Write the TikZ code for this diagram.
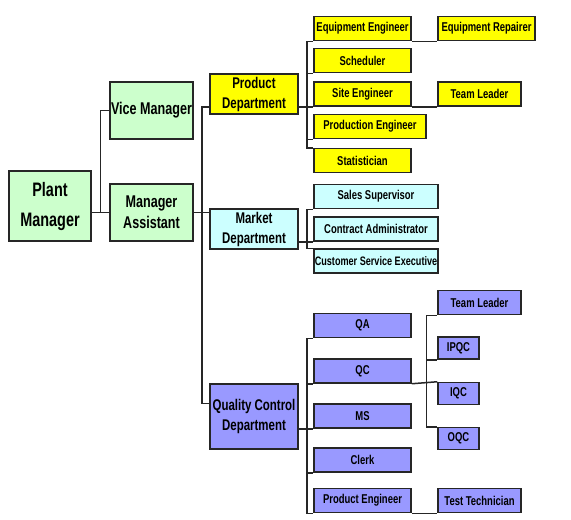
\documentclass[tikz,border=0pt]{standalone}
\usepackage{fontspec}
\setmainfont{Liberation Sans}[FakeStretch=0.74]
\usepackage{tikz}
\definecolor{mgrgreen}{RGB}{204,255,204}
\definecolor{prodyellow}{RGB}{255,255,0}
\definecolor{mktcyan}{RGB}{204,255,255}
\definecolor{qcpurple}{RGB}{153,153,255}
\tikzstyle{box} = [rectangle, draw=black!85, line width=1.5pt, align=center, inner sep=0pt, text=black]
\tikzstyle{topbox} = [box, fill=mgrgreen, minimum width=83pt, minimum height=57pt, font=\fontsize{17}{21}\selectfont\bfseries]
\tikzstyle{deptbox} = [box, minimum width=88pt, minimum height=40pt, font=\fontsize{15.5}{20}\selectfont\bfseries]
\tikzstyle{jobbox} = [box, minimum width=97pt, minimum height=24pt, font=\fontsize{12.8}{14}\selectfont\bfseries]
\tikzstyle{line} = [draw=black!85, line width=1.5pt]

\begin{document}
\begin{tikzpicture}[x=1pt, y=-1pt]
		\fill[white] (0,0) rectangle (571,520);
		\useasboundingbox (0,0) rectangle (571,520);

		% managers
		\node (pm) [topbox, minimum width=82pt, minimum height=70pt, font=\fontsize{19.5}{30}\selectfont\bfseries] at (50,206) {Plant\\Manager};
		\node (vm) [topbox] at (151.5,110.5) {Vice Manager};
		\node (ma) [topbox] at (151.5,212.5) {Manager\\Assistant};

		% departments
		\node (pd) [deptbox, fill=prodyellow] at (254,94) {Product\\Department};
		\node (md) [deptbox, fill=mktcyan] at (254,229) {Market\\Department};
		\node (qd) [deptbox, fill=qcpurple, minimum height=65pt] at (254,416.5) {Quality Control\\Department};

		% product department
		\node (ee) [jobbox, fill=prodyellow] at (362.5,28.5) {Equipment Engineer};
		\node (er) [jobbox, fill=prodyellow] at (486.5,28.5) {Equipment Repairer};
		\node (sch) [jobbox, fill=prodyellow] at (362.5,60.5) {Scheduler};
		\node (se) [jobbox, fill=prodyellow] at (362.5,94) {Site Engineer};
		\node (tl1) [jobbox, fill=prodyellow, minimum width=83pt] at (479.5,94) {Team Leader};
		\node (pe) [jobbox, fill=prodyellow, minimum width=112pt] at (370,126.5) {Production Engineer};
		\node (st) [jobbox, fill=prodyellow] at (362.5,160.5) {Statistician};

		% market department
		\node (ss) [jobbox, fill=mktcyan, minimum width=124pt] at (376,196.5) {Sales Supervisor};
		\node (ca) [jobbox, fill=mktcyan, minimum width=124pt] at (376,229) {Contract Administrator};
		\node (cse) [jobbox, fill=mktcyan, minimum width=124pt, font=\fontsize{12.3}{14}\selectfont\bfseries] at (376,261) {Customer Service Executive};

		% quality control department
		\node (qa) [jobbox, fill=qcpurple] at (362.5,325.5) {QA};
		\node (qc) [jobbox, fill=qcpurple] at (362.5,371) {QC};
		\node (ms) [jobbox, fill=qcpurple] at (362.5,416) {MS};
		\node (clerk) [jobbox, fill=qcpurple] at (362.5,460) {Clerk};
		\node (pre) [jobbox, fill=qcpurple] at (362.5,500.5) {Product Engineer};
		\node (tl2) [jobbox, fill=qcpurple, minimum width=83pt] at (479.5,302.5) {Team Leader};
		\node (ipqc) [jobbox, fill=qcpurple, minimum width=41pt, minimum height=22pt] at (458.5,348) {IPQC};
		\node (iqc) [jobbox, fill=qcpurple, minimum width=41pt, minimum height=22pt] at (458.5,393.5) {IQC};
		\node (oqc) [jobbox, fill=qcpurple, minimum width=41pt, minimum height=22pt] at (458.5,438.5) {OQC};
		\node (tt) [jobbox, fill=qcpurple, minimum width=83pt] at (479.5,500.5) {Test Technician};

		% trunks
		\coordinate (t2) at ([xshift=8pt]ma.east);
		\coordinate (t3) at ([xshift=8pt]pd.east |- ee.south west);
		\coordinate (t4) at (t3 |- ss.south west);
		\coordinate (t5) at (t3 |- qa.south west);
		\coordinate (t6) at ([xshift=-11pt]tl2.south west);

		\draw [line] (pm.east |- ma.west) -- (ma.west);
		\draw [line] (vm.west) -| ([xshift=-9pt]ma.west);
		\draw [line] (ma.east) -- (ma.east -| md.west);
		\draw [line] (t2) |- (pd.west |- se.south west);
		\draw [line] (t2) |- (qd.west |- ms.north west);

		\draw [line] (pd.east |- se.south west) -- (se.south west);
		\draw [line] (t3) -- (ee.south west);
		\draw [line] (t3) |- (sch.south west);
		\draw [line] (t3) |- (pe.south west);
		\draw [line] (t3) |- (st.north west);
		\draw [line] (ee.south east) -- (er.south west);
		\draw [line] (se.south east) -- (tl1.south west);

		\draw [line] (md.east |- ca.south west) -- (ca.south west);
		\draw [line] (t4) -- (ss.south west);
		\draw [line] (t4) |- (cse.north west);

		\draw [line] (qd.east |- ms.south west) -- (ms.south west);
		\draw [line] (t5) -- (qa.south west);
		\draw [line] (t5) |- (qc.south west);
		\draw [line] (t5) |- (clerk.south west);
		\draw [line] (t5) |- (pre.south west);
		\draw [line] (pre.south east) -- (tt.south west);
		\draw [line] (qc.south east) -- (iqc.north west);
		\draw [line] (t6) -- (tl2.south west);
		\draw [line] (t6) |- (ipqc.south west);
		\draw [line] (t6) |- (oqc.north west);
	\end{tikzpicture}
\end{document}
